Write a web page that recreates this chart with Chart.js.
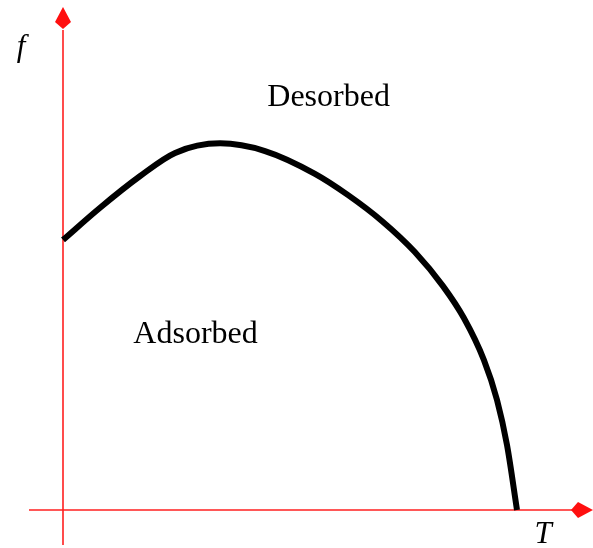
<!DOCTYPE html>
<html>
<head>
<meta charset="utf-8">
<script src="https://cdn.jsdelivr.net/npm/chart.js@4/dist/chart.umd.min.js"></script>
<style>
  html, body { margin: 0; padding: 0; background: #fff; }
  #wrap { width: 593px; height: 548px; }
</style>
</head>
<body>
<div id="wrap"><canvas id="c" width="593" height="548"></canvas></div>
<script>
// Adsorption/desorption phase boundary: force f against temperature T
const temperature = [0, 0.081, 0.170, 0.247, 0.346, 0.445, 0.555, 0.628, 0.703, 0.775,
  0.837, 0.883, 0.927, 0.956, 0.978, 1.0];
const force = [0.736, 0.823, 0.910, 0.973, 0.999, 0.978, 0.916, 0.858, 0.787, 0.703,
  0.610, 0.523, 0.409, 0.300, 0.177, 0];

const regionLabels = ['Desorbed', 'Adsorbed'];
const regionT = [0.585, 0.292];
const regionF = [1.101, 0.455];
const axisNames = ['T', 'f'];

const points = temperature.map((t, i) => ({ x: t, y: force[i] }));

function kite(ctx, tipX, tipY, dirX, dirY) {
  // stealth-style arrow head pointing along (dirX, dirY)
  const len = 22, wide = 8, back = 7;
  const px = -dirY, py = dirX;
  const bx = tipX - dirX * len, by = tipY - dirY * len;
  const mx = tipX - dirX * (len - back), my = tipY - dirY * (len - back);
  ctx.beginPath();
  ctx.moveTo(tipX, tipY);
  ctx.lineTo(mx + px * wide, my + py * wide);
  ctx.lineTo(bx, by);
  ctx.lineTo(mx - px * wide, my - py * wide);
  ctx.closePath();
  ctx.fill();
}

const axesPlugin = {
  id: 'redAxes',
  beforeDatasetsDraw(chart) {
    const { ctx, scales: { x, y } } = chart;
    const x0 = x.getPixelForValue(0), y0 = y.getPixelForValue(0);
    ctx.save();
    ctx.strokeStyle = '#ff2020';
    ctx.fillStyle = '#ff1010';
    ctx.lineWidth = 1.6;
    ctx.beginPath();
    ctx.moveTo(29, y0); ctx.lineTo(574, y0);
    ctx.moveTo(x0, 545); ctx.lineTo(x0, 30);
    ctx.stroke();
    kite(ctx, 593, y0, 1, 0);
    kite(ctx, x0, 7, 0, -1);
    ctx.restore();
  },
  afterDatasetsDraw(chart) {
    const { ctx, scales: { x, y } } = chart;
    ctx.save();
    ctx.fillStyle = '#000';
    ctx.textAlign = 'center';
    ctx.textBaseline = 'alphabetic';
    ctx.font = '32px "Liberation Serif", serif';
    regionLabels.forEach((s, i) => {
      ctx.fillText(s, x.getPixelForValue(regionT[i]), y.getPixelForValue(regionF[i]));
    });
    ctx.font = 'italic 31px "Liberation Serif", serif';
    ctx.fillText(axisNames[0], 543, 543);
    ctx.fillText(axisNames[1], 21, 56);
    ctx.restore();
  }
};

new Chart(document.getElementById('c'), {
  type: 'line',
  data: {
    datasets: [{
      data: points,
      borderColor: '#000',
      borderWidth: 6,
      pointRadius: 0,
      cubicInterpolationMode: 'monotone',
      fill: false,
      borderCapStyle: 'butt'
    }]
  },
  options: {
    responsive: false,
    animation: false,
    events: [],
    layout: { padding: 0 },
    plugins: { legend: { display: false }, tooltip: { enabled: false } },
    scales: {
      x: { type: 'linear', display: false, min: -63 / 454, max: 530 / 454 },
      y: { type: 'linear', display: false, min: -38 / 367, max: 510 / 367 }
    }
  },
  plugins: [axesPlugin]
});
</script>
</body>
</html>
